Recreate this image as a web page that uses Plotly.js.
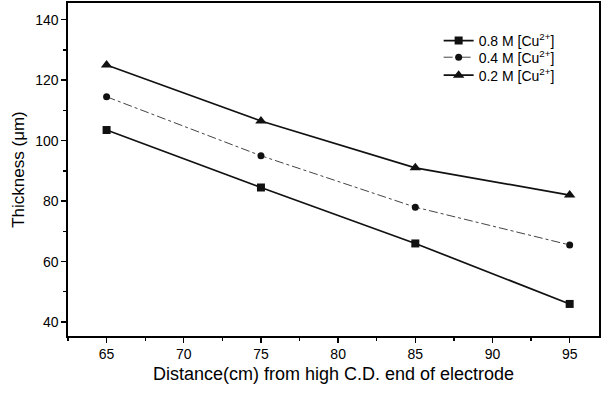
<!DOCTYPE html>
<html><head><meta charset="utf-8">
<script src="https://cdn.plot.ly/plotly-3.0.1.min.js"></script>
<style>html,body{margin:0;padding:0;background:#fff}#chart{width:610px;height:393px}</style>
</head><body><div id="chart"></div>
<script>
var distance = [65, 75, 85, 95];
var seriesNames = ["0.8 M [Cu<sup>2+</sup>]", "0.4 M [Cu<sup>2+</sup>]", "0.2 M [Cu<sup>2+</sup>]"];
var thick08 = [103.5, 84.5, 66, 46];
var thick04 = [114.5, 95, 78, 65.5];
var thick02 = [125, 106.5, 91, 82];

var traces = [
  {x: distance, y: thick08, name: seriesNames[0], mode: 'lines+markers', type: 'scatter', legend: 'legend',
   line: {color: '#111', width: 1.7}, marker: {symbol: 'square', size: 8, color: '#111'}},
  {x: distance, y: thick04, name: seriesNames[1], mode: 'lines+markers', type: 'scatter', legend: 'legend2',
   line: {color: '#444', width: 1, dash: 'dashdot'}, marker: {symbol: 'circle', size: 7, color: '#111'}},
  {x: distance, y: thick02, name: seriesNames[2], mode: 'lines+markers', type: 'scatter', legend: 'legend3',
   line: {color: '#111', width: 1.7}, marker: {symbol: 'triangle-up', size: 10, color: '#111'}}
];

function leg(y) {
  return {x: 0.698, y: y, xanchor: 'left', yanchor: 'middle', bgcolor: 'rgba(0,0,0,0)',
          font: {size: 14}, borderwidth: 0};
}

var layout = {
  width: 610, height: 393,
  margin: {l: 68, r: 11, t: 3, b: 57},
  paper_bgcolor: '#fff', plot_bgcolor: '#fff',
  font: {family: 'Liberation Sans, Arial, sans-serif', color: '#000', size: 13},
  showlegend: true,
  legend: leg(0.886),
  legend2: leg(0.836),
  legend3: leg(0.782),
  xaxis: {
    range: [62.5, 96.9], tickvals: [65, 70, 75, 80, 85, 90, 95],
    ticks: 'outside', ticklen: 5, tickwidth: 1.3, tickcolor: '#000',
    minor: {dtick: 2.5, tick0: 62.5, ticks: 'outside', ticklen: 3, tickcolor: '#000'},
    showline: true, linecolor: '#000', linewidth: 1.6, mirror: true,
    showgrid: false, zeroline: false,
    tickfont: {size: 14},
    title: {text: 'Distance(cm) from high C.D. end of electrode', font: {size: 18}, standoff: 6}
  },
  yaxis: {
    range: [35.4, 145.5], tickvals: [40, 60, 80, 100, 120, 140],
    ticks: 'outside', ticklen: 5, tickwidth: 1.3, tickcolor: '#000',
    minor: {dtick: 10, tick0: 30, ticks: 'outside', ticklen: 3, tickcolor: '#000'},
    showline: true, linecolor: '#000', linewidth: 1.6, mirror: true,
    showgrid: false, zeroline: false,
    tickfont: {size: 14},
    title: {text: 'Thickness (μm)', font: {size: 17}, standoff: 6}
  }
};
Plotly.newPlot('chart', traces, layout, {displayModeBar: false, staticPlot: true});
</script></body></html>
